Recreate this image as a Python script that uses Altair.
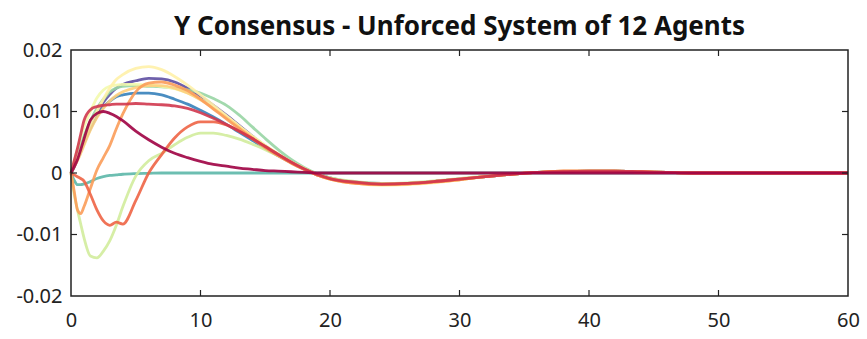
import altair as alt
import pandas as pd

# Time samples shared by every agent trace
t = [0, 0.25, 0.5, 0.75, 1, 1.5, 2, 2.5, 3, 3.5, 4, 5, 6, 7, 8, 9, 10, 11, 12, 13,
     14, 15, 16, 17, 18, 19, 20, 22, 24, 26, 28, 30, 32, 34, 36, 38, 40, 42, 44,
     46, 48, 50, 55, 60]

# Y-state of each agent (drawn in this order, last on top)
purple = [0, 0.0012, 0.0025, 0.0038, 0.0050, 0.0075, 0.0097, 0.0115, 0.0128, 0.0138, 0.0144,
          0.0150, 0.0154, 0.0153, 0.0148, 0.0138, 0.0125, 0.0110, 0.0094, 0.0077, 0.0060,
          0.0044, 0.0030, 0.0017, 0.0006, -0.0003, -0.0009, -0.0016, -0.0018, -0.0017,
          -0.0014, -0.0010, -0.0006, -0.0002, 0.0001, 0.0002, 0.0003, 0.0003, 0.0002,
          0.0001, 0, 0, 0, 0]
blue = [0, 0.0010, 0.0022, 0.0035, 0.0048, 0.0072, 0.0092, 0.0107, 0.0117, 0.0124, 0.0127,
        0.0130, 0.0130, 0.0127, 0.0120, 0.0112, 0.0102, 0.0091, 0.0079, 0.0066, 0.0053,
        0.0040, 0.0028, 0.0017, 0.0007, -0.0001, -0.0008, -0.0015, -0.0017, -0.0017,
        -0.0014, -0.0010, -0.0006, -0.0002, 0.0001, 0.0002, 0.0003, 0.0003, 0.0002,
        0.0001, 0, 0, 0, 0]
teal = [0, -0.0012, -0.0019, -0.0019, -0.0018, -0.0014, -0.0009, -0.0006, -0.0004, -0.0003,
        -0.0002, -0.0001, -0.00005, 0, 0, 0, 0, 0, 0, 0, 0, 0, 0, 0, 0, 0, 0, 0, 0, 0,
        0, 0, 0, 0, 0, 0, 0, 0, 0, 0, 0, 0, 0, 0]
green = [0, 0.0015, 0.0030, 0.0045, 0.0060, 0.0085, 0.0105, 0.0120, 0.0132, 0.0138, 0.0141,
         0.0142, 0.0141, 0.0140, 0.0138, 0.0135, 0.0130, 0.0121, 0.0110, 0.0094, 0.0075,
         0.0056, 0.0038, 0.0022, 0.0009, -0.0001, -0.0008, -0.0015, -0.0017, -0.0017,
         -0.0014, -0.0010, -0.0006, -0.0002, 0.0001, 0.0002, 0.0003, 0.0003, 0.0002,
         0.0001, 0, 0, 0, 0]
lime = [0, -0.0035, -0.0060, -0.0083, -0.0105, -0.0135, -0.0138, -0.0127, -0.0110, -0.0085,
        -0.0055, -0.0005, 0.0020, 0.0032, 0.0046, 0.0058, 0.0065, 0.0065, 0.0061, 0.0055,
        0.0047, 0.0038, 0.0028, 0.0018, 0.0008, -0.0002, -0.0008, -0.0014, -0.0017,
        -0.0016, -0.0013, -0.0009, -0.0005, -0.0002, 0.0001, 0.0002, 0.0003, 0.0003,
        0.0002, 0.0001, 0, 0, 0, 0]
cream = [0, 0.0020, 0.0040, 0.0058, 0.0075, 0.0100, 0.0122, 0.0135, 0.0141, 0.0143, 0.0144,
         0.0144, 0.0143, 0.0141, 0.0137, 0.0130, 0.0120, 0.0107, 0.0092, 0.0076, 0.0060,
         0.0045, 0.0031, 0.0018, 0.0007, -0.0002, -0.0009, -0.0016, -0.0018, -0.0018,
         -0.0015, -0.0010, -0.0006, -0.0002, 0.0001, 0.0002, 0.0003, 0.0003, 0.0002,
         0.0001, 0, 0, 0, 0]
yellow = [0, 0.0012, 0.0025, 0.0038, 0.0052, 0.0078, 0.0100, 0.0120, 0.0138, 0.0152, 0.0160,
          0.0170, 0.0173, 0.0168, 0.0157, 0.0143, 0.0127, 0.0110, 0.0093, 0.0076, 0.0059,
          0.0044, 0.0030, 0.0018, 0.0007, -0.0003, -0.0010, -0.0017, -0.0020, -0.0019,
          -0.0016, -0.0011, -0.0006, -0.0002, 0.0001, 0.0003, 0.0003, 0.0003, 0.0002,
          0.0001, 0, 0, 0, 0]
peach = [0, 0.0010, 0.0020, 0.0032, 0.0045, 0.0070, 0.0090, 0.0105, 0.0117, 0.0126, 0.0132,
         0.0139, 0.0142, 0.0142, 0.0138, 0.0130, 0.0119, 0.0105, 0.0090, 0.0074, 0.0058,
         0.0043, 0.0029, 0.0017, 0.0006, -0.0003, -0.0010, -0.0017, -0.0019, -0.0018,
         -0.0015, -0.0011, -0.0006, -0.0002, 0.0001, 0.0003, 0.0003, 0.0003, 0.0002,
         0.0001, 0, 0, 0, 0]
orange = [0, -0.0030, -0.0060, -0.0066, -0.0055, -0.0025, 0.0005, 0.0025, 0.0045, 0.0072,
          0.0096, 0.0132, 0.0146, 0.0148, 0.0143, 0.0134, 0.0120, 0.0104, 0.0088, 0.0072,
          0.0056, 0.0041, 0.0028, 0.0016, 0.0006, -0.0003, -0.0010, -0.0017, -0.0019,
          -0.0018, -0.0015, -0.0011, -0.0006, -0.0002, 0.0001, 0.0003, 0.0003, 0.0003,
          0.0002, 0.0001, 0, 0, 0, 0]
vermilion = [0, -0.0003, -0.0006, -0.0009, -0.0013, -0.0035, -0.0060, -0.0078, -0.0085,
             -0.0080, -0.0083, -0.0045, 0.0000, 0.0030, 0.0057, 0.0075, 0.0083, 0.0083,
             0.0078, 0.0068, 0.0056, 0.0043, 0.0030, 0.0017, 0.0006, -0.0003, -0.0009,
             -0.0016, -0.0018, -0.0017, -0.0014, -0.0010, -0.0006, -0.0002, 0.0001, 0.0003,
             0.0003, 0.0003, 0.0002, 0.0001, 0, 0, 0, 0]
crimson = [0, 0.0020, 0.0040, 0.0063, 0.0085, 0.0103, 0.0108, 0.0110, 0.0111, 0.0112, 0.0112,
           0.0113, 0.0112, 0.0111, 0.0109, 0.0105, 0.0098, 0.0089, 0.0079, 0.0068, 0.0056,
           0.0043, 0.0030, 0.0018, 0.0007, -0.0002, -0.0009, -0.0015, -0.0018, -0.0017,
           -0.0014, -0.0010, -0.0006, -0.0002, 0.0001, 0.0002, 0.0003, 0.0003, 0.0002,
           0.0001, 0, 0, 0, 0]
magenta = [0, 0.0010, 0.0022, 0.0038, 0.0055, 0.0086, 0.0097, 0.0100, 0.0097, 0.0092, 0.0085,
           0.0068, 0.0054, 0.0042, 0.0032, 0.0025, 0.0019, 0.0014, 0.0011, 0.0008, 0.0006,
           0.0004, 0.0003, 0.0002, 0.0001, 0, 0, 0, 0, 0, 0, 0, 0, 0, 0, 0, 0, 0, 0, 0,
           0, 0, 0, 0]

agents = ["purple", "blue", "teal", "green", "lime", "cream", "yellow", "peach",
          "orange", "vermilion", "crimson", "magenta"]
series = [purple, blue, teal, green, lime, cream, yellow, peach, orange, vermilion,
          crimson, magenta]
colors = ["#5e4fa2", "#3681ba", "#5cb7a9", "#98d5a4", "#d1ec9c", "#f3faad", "#fff1a8",
          "#fece7c", "#fb9c59", "#ee6445", "#d0374e", "#9e0142"]

x_ticks = [10, 20, 30, 40, 50]
y_ticks = [-0.01, 0, 0.01]

rows = []
for name, vals in zip(agents, series):
    for ti, v in zip(t, vals):
        rows.append({"agent": name, "t": ti, "y": v})
df = pd.DataFrame(rows)

W, H = 777, 246
FONT = "Noto Sans"
xs = alt.Scale(domain=[0, 60], nice=False, zero=False)
ys = alt.Scale(domain=[-0.02, 0.02], nice=False, zero=False)

x_axis = alt.Axis(values=[0, 10, 20, 30, 40, 50, 60], tickSize=0, domain=False, grid=False,
                  labelFontSize=20, labelFont=FONT, labelColor="#222", labelFlush=False,
                  labelPadding=14, title=None, format="d")
y_axis = alt.Axis(values=[-0.02, -0.01, 0, 0.01, 0.02], tickSize=0, domain=False, grid=False,
                  labelFontSize=20, labelFont=FONT, labelColor="#222", labelFlush=False,
                  labelPadding=9, title=None,
                  labelExpr="datum.value == 0 ? '0' : (datum.value < 0 ? '-' : '') + format(abs(datum.value), '.2f')")

base = alt.Chart(df)
layers = []
for name, col in zip(agents, colors):
    layers.append(
        base.transform_filter(alt.datum.agent == name)
        .mark_line(color=col, strokeWidth=2.8, opacity=0.9, interpolate="monotone")
        .encode(
            x=alt.X("t:Q", scale=xs, axis=x_axis),
            y=alt.Y("y:Q", scale=ys, axis=y_axis),
        )
    )

# Plot frame
frame = alt.Chart(pd.DataFrame({"k": [0]})).mark_rect(
    fill=None, stroke="#222", strokeWidth=1.5
).encode(x=alt.value(0), x2=alt.value(W), y=alt.value(0), y2=alt.value(H))

# Inward tick marks on all four sides of the frame
xt = pd.DataFrame({"t": x_ticks})
yt = pd.DataFrame({"y": y_ticks})
tick_style = dict(color="#222", strokeWidth=1.2)
ticks = [
    alt.Chart(xt).mark_rule(**tick_style).encode(x=alt.X("t:Q", scale=xs, axis=x_axis),
                                                y=alt.value(H - 6), y2=alt.value(H)),
    alt.Chart(xt).mark_rule(**tick_style).encode(x=alt.X("t:Q", scale=xs, axis=x_axis),
                                                y=alt.value(0), y2=alt.value(6)),
    alt.Chart(yt).mark_rule(**tick_style).encode(y=alt.Y("y:Q", scale=ys, axis=y_axis),
                                                x=alt.value(0), x2=alt.value(6)),
    alt.Chart(yt).mark_rule(**tick_style).encode(y=alt.Y("y:Q", scale=ys, axis=y_axis),
                                                x=alt.value(W - 6), x2=alt.value(W)),
]

chart = alt.layer(*layers, *ticks, frame).properties(
    width=W, height=H,
    title=alt.TitleParams("Y Consensus - Unforced System of 12 Agents", fontSize=26,
                          font=FONT, fontWeight="bold", color="#111",
                          anchor="middle", offset=0),
    autosize=alt.AutoSizeParams(type="none"),
    padding={"left": 71, "top": 50, "right": 19, "bottom": 43},
).configure(background="white").configure_view(stroke=None)

chart.save("out.html", embed_options={"renderer": "svg", "actions": False})
